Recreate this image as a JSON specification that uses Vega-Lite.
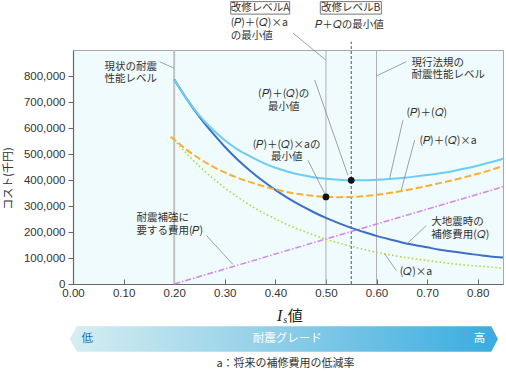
{
  "$schema": "https://vega.github.io/schema/vega-lite/v6.json",
  "width": 430,
  "height": 234,
  "autosize": {"type": "none"},
  "padding": {"left": 73, "top": 50, "right": 3, "bottom": 87},
  "background": "white",
  "view": {"fill": "#effbfd", "stroke": "#a8a8a8", "strokeWidth": 1},
  "resolve": {"axis": {"x": "independent", "y": "independent"}},
  "config": {
    "font": "Noto Sans CJK JP",
    "axis": {"labelColor": "#333", "labelFont": "Liberation Sans", "labelFontSize": 11.5, "domainColor": "#666", "tickColor": "#666", "domainWidth": 1.2, "grid": false, "titleColor": "#333", "titleFont": "Noto Sans CJK JP", "titleFontWeight": "normal", "titleFontSize": 11}
  },
  "datasets": {
    "vlineNow": [{"x": 0.2, "v": 0, "v2": 900000}],
    "vlines": [
      {"x": 0.5, "v": 0, "v2": 900000},
      {"x": 0.6, "v": 0, "v2": 900000}
    ],
    "vlineB": [{"x": 0.55, "v": 0, "v2": 932000}],
    "Q": [
      {"x": 0.2, "v": 787000}, {"x": 0.225, "v": 711000}, {"x": 0.25, "v": 643000}, {"x": 0.275, "v": 583000}, {"x": 0.3, "v": 528000}, {"x": 0.325, "v": 479000}, {"x": 0.35, "v": 436000}, {"x": 0.375, "v": 397000}, {"x": 0.4, "v": 362000}, {"x": 0.425, "v": 330000}, {"x": 0.45, "v": 302000}, {"x": 0.475, "v": 277000}, {"x": 0.5, "v": 254000}, {"x": 0.525, "v": 234000}, {"x": 0.55, "v": 216000}, {"x": 0.575, "v": 200000}, {"x": 0.6, "v": 185000}, {"x": 0.625, "v": 172000}, {"x": 0.65, "v": 160000}, {"x": 0.675, "v": 150000}, {"x": 0.7, "v": 141000}, {"x": 0.725, "v": 132000}, {"x": 0.75, "v": 125000}, {"x": 0.775, "v": 118000}, {"x": 0.8, "v": 112000}, {"x": 0.825, "v": 106000}, {"x": 0.85, "v": 102000}
    ],
    "PQ": [
      {"x": 0.2, "v": 787000}, {"x": 0.225, "v": 712000}, {"x": 0.25, "v": 648000}, {"x": 0.275, "v": 596000}, {"x": 0.3, "v": 553000}, {"x": 0.325, "v": 518000}, {"x": 0.35, "v": 491000}, {"x": 0.375, "v": 467000}, {"x": 0.4, "v": 447000}, {"x": 0.425, "v": 432000}, {"x": 0.45, "v": 420000}, {"x": 0.475, "v": 411000}, {"x": 0.5, "v": 405000}, {"x": 0.525, "v": 401000}, {"x": 0.55, "v": 399000}, {"x": 0.575, "v": 399000}, {"x": 0.6, "v": 401000}, {"x": 0.625, "v": 404000}, {"x": 0.65, "v": 408000}, {"x": 0.675, "v": 413000}, {"x": 0.7, "v": 419000}, {"x": 0.725, "v": 426000}, {"x": 0.75, "v": 434000}, {"x": 0.775, "v": 444000}, {"x": 0.8, "v": 455000}, {"x": 0.825, "v": 468000}, {"x": 0.85, "v": 482000}
    ],
    "PQa": [
      {"x": 0.193, "v": 566000}, {"x": 0.2, "v": 556000}, {"x": 0.225, "v": 516000}, {"x": 0.25, "v": 482000}, {"x": 0.275, "v": 453000}, {"x": 0.3, "v": 429000}, {"x": 0.325, "v": 409000}, {"x": 0.35, "v": 392000}, {"x": 0.375, "v": 377000}, {"x": 0.4, "v": 364000}, {"x": 0.425, "v": 353000}, {"x": 0.45, "v": 345000}, {"x": 0.475, "v": 339000}, {"x": 0.5, "v": 335000}, {"x": 0.525, "v": 334000}, {"x": 0.55, "v": 335000}, {"x": 0.575, "v": 338000}, {"x": 0.6, "v": 343000}, {"x": 0.625, "v": 350000}, {"x": 0.65, "v": 358000}, {"x": 0.675, "v": 367000}, {"x": 0.7, "v": 377000}, {"x": 0.725, "v": 388000}, {"x": 0.75, "v": 399000}, {"x": 0.775, "v": 411000}, {"x": 0.8, "v": 424000}, {"x": 0.825, "v": 438000}, {"x": 0.85, "v": 454000}
    ],
    "Qa": [
      {"x": 0.2, "v": 555000}, {"x": 0.225, "v": 501000}, {"x": 0.25, "v": 452000}, {"x": 0.275, "v": 409000}, {"x": 0.3, "v": 370000}, {"x": 0.325, "v": 335000}, {"x": 0.35, "v": 303000}, {"x": 0.375, "v": 275000}, {"x": 0.4, "v": 250000}, {"x": 0.425, "v": 227000}, {"x": 0.45, "v": 207000}, {"x": 0.475, "v": 189000}, {"x": 0.5, "v": 172000}, {"x": 0.525, "v": 158000}, {"x": 0.55, "v": 145000}, {"x": 0.575, "v": 133000}, {"x": 0.6, "v": 122000}, {"x": 0.625, "v": 113000}, {"x": 0.65, "v": 104000}, {"x": 0.675, "v": 97000}, {"x": 0.7, "v": 90000}, {"x": 0.725, "v": 84000}, {"x": 0.75, "v": 78000}, {"x": 0.775, "v": 73000}, {"x": 0.8, "v": 69000}, {"x": 0.825, "v": 65000}, {"x": 0.85, "v": 61000}
    ],
    "P": [{"x": 0.2, "v": 0}, {"x": 0.5, "v": 173000}, {"x": 0.85, "v": 374000}],
    "dots": [{"x": 0.5, "v": 335000}, {"x": 0.55, "v": 399000}],
    "leaders": [
      {"x": 0.1713, "v": 855000, "x2": 0.1996, "v2": 830000},
      {"x": 0.5996, "v": 800000, "x2": 0.6589, "v2": 855000},
      {"x": 0.4777, "v": 785000, "x2": 0.5435, "v2": 418000},
      {"x": 0.4644, "v": 476000, "x2": 0.4975, "v2": 348000},
      {"x": 0.6522, "v": 630000, "x2": 0.6259, "v2": 406000},
      {"x": 0.6753, "v": 553000, "x2": 0.649, "v2": 362000},
      {"x": 0.2636, "v": 187000, "x2": 0.3162, "v2": 75000},
      {"x": 0.6984, "v": 225000, "x2": 0.6589, "v2": 152000},
      {"x": 0.6391, "v": 52000, "x2": 0.616, "v2": 116000},
      {"x": 0.4348, "v": 965000, "x2": 0.4994, "v2": 862000}
    ],
    "boxes": [
      {"x": 0.3117, "x2": 0.4283, "v": 1038000, "v2": 1086000},
      {"x": 0.4889, "x2": 0.6095, "v": 1038000, "v2": 1086000}
    ],
    "labelsCenter": [
      {"x": 0.114, "v": 835000, "t": "現状の耐震\n性能レベル"},
      {"x": 0.4164, "v": 729000, "t": "(𝑃)＋(𝑄)の\n最小値"},
      {"x": 0.4223, "v": 536000, "t": "(𝑃)＋(𝑄)×aの\n最小値"},
      {"x": 0.37, "v": 1062000, "t": "改修レベルA"},
      {"x": 0.5488, "v": 1062000, "t": "改修レベルB"},
      {"x": 0.5468, "v": 996000, "t": "𝑃＋𝑄の最小値"}
    ],
    "labelsLeft": [
      {"x": 0.6693, "v": 851000, "t": "現行法規の\n耐震性能レベル"},
      {"x": 0.659, "v": 657000, "t": "(𝑃)＋(𝑄)"},
      {"x": 0.685, "v": 550000, "t": "(𝑃)＋(𝑄)×a"},
      {"x": 0.1253, "v": 253000, "t": "耐震補強に\n要する費用(𝑃)"},
      {"x": 0.7083, "v": 238000, "t": "大地震時の\n補修費用(𝑄)"},
      {"x": 0.6457, "v": 45000, "t": "(𝑄)×a"},
      {"x": 0.3117, "v": 1002000, "t": "(𝑃)＋(𝑄)×a\nの最小値"}
    ],
    "bar": [
      {"x": -0.0065, "v": -211300, "v2": -211300},
      {"x": 0.0079, "v": -162700, "v2": -260200},
      {"x": 0.8269, "v": -162700, "v2": -260200},
      {"x": 0.84, "v": -211300, "v2": -211300}
    ],
    "barLow": [{"x": 0.028, "v": -211000, "t": "低"}],
    "barText": [{"x": 0.4233, "v": -211000, "t": "耐震グレード"}, {"x": 0.8037, "v": -211000, "t": "高"}],
    "footnote": [{"x": 0.42, "v": -306000, "t": "a：将来の補修費用の低減率"}],
    "titleI": [{"x": 0.4085, "v": -140700, "t": "I"}],
    "titleS": [{"x": 0.4194, "v": -148400, "t": "s"}],
    "titleKanji": [{"x": 0.4243, "v": -140700, "t": "値"}]
  },
  "layer": [
    {
      "data": {"name": "vlineNow"},
      "mark": {"type": "rule", "color": "#c2c2c2", "strokeWidth": 2},
      "encoding": {
        "x": {"field": "x", "type": "quantitative", "scale": {"domain": [0, 0.85], "nice": false, "zero": false},
          "axis": {"values": [0, 0.1, 0.2, 0.3, 0.4, 0.5, 0.6, 0.7, 0.8], "format": ".2f", "title": null, "tickSize": -5, "labelPadding": 8, "labelFlush": false, "labelOverlap": false}},
        "y": {"field": "v", "type": "quantitative", "scale": {"domain": [0, 900000], "nice": false},
          "axis": {"values": [0, 100000, 200000, 300000, 400000, 500000, 600000, 700000, 800000], "format": ",.0f", "title": "コスト(千円)", "tickSize": 5, "labelPadding": 3, "titleX": -65, "titleY": 128, "titleAngle": -90, "titleAlign": "center", "titleBaseline": "middle"}},
        "y2": {"field": "v2"}
      }
    },
    {
      "data": {"name": "vlines"},
      "mark": {"type": "rule", "color": "#b0b0b0", "strokeWidth": 1},
      "encoding": {
        "x": {"field": "x", "type": "quantitative", "axis": null},
        "y": {"field": "v", "type": "quantitative", "axis": null},
        "y2": {"field": "v2"}
      }
    },
    {
      "data": {"name": "vlineB"},
      "mark": {"type": "rule", "color": "#555", "strokeWidth": 1, "strokeDash": [3, 2]},
      "encoding": {
        "x": {"field": "x", "type": "quantitative", "axis": null},
        "y": {"field": "v", "type": "quantitative", "axis": null},
        "y2": {"field": "v2"}
      }
    },
    {
      "data": {"name": "P"},
      "mark": {"type": "line", "color": "#d584f2", "strokeWidth": 1.5, "strokeDash": [6, 2, 1.5, 2]},
      "encoding": {"x": {"field": "x", "type": "quantitative", "axis": null}, "y": {"field": "v", "type": "quantitative", "axis": null}}
    },
    {
      "data": {"name": "Qa"},
      "mark": {"type": "line", "color": "#aedb45", "strokeWidth": 1.6, "strokeDash": [1.6, 2.4], "interpolate": "monotone"},
      "encoding": {"x": {"field": "x", "type": "quantitative", "axis": null}, "y": {"field": "v", "type": "quantitative", "axis": null}}
    },
    {
      "data": {"name": "Q"},
      "mark": {"type": "line", "color": "#3d6fc2", "strokeWidth": 2, "interpolate": "monotone"},
      "encoding": {"x": {"field": "x", "type": "quantitative", "axis": null}, "y": {"field": "v", "type": "quantitative", "axis": null}}
    },
    {
      "data": {"name": "PQa"},
      "mark": {"type": "line", "color": "#f6b132", "strokeWidth": 2, "strokeDash": [7, 3], "interpolate": "monotone"},
      "encoding": {"x": {"field": "x", "type": "quantitative", "axis": null}, "y": {"field": "v", "type": "quantitative", "axis": null}}
    },
    {
      "data": {"name": "PQ"},
      "mark": {"type": "line", "color": "#6ccdf5", "strokeWidth": 2, "interpolate": "monotone"},
      "encoding": {"x": {"field": "x", "type": "quantitative", "axis": null}, "y": {"field": "v", "type": "quantitative", "axis": null}}
    },
    {
      "data": {"name": "leaders"},
      "mark": {"type": "rule", "color": "#8a8a8a", "strokeWidth": 0.8},
      "encoding": {
        "x": {"field": "x", "type": "quantitative", "axis": null},
        "y": {"field": "v", "type": "quantitative", "axis": null},
        "x2": {"field": "x2"},
        "y2": {"field": "v2"}
      }
    },
    {
      "data": {"name": "dots"},
      "mark": {"type": "circle", "color": "#111", "size": 45, "opacity": 1},
      "encoding": {"x": {"field": "x", "type": "quantitative", "axis": null}, "y": {"field": "v", "type": "quantitative", "axis": null}}
    },
    {
      "data": {"name": "boxes"},
      "mark": {"type": "rect", "fill": "white", "stroke": "#777", "strokeWidth": 1},
      "encoding": {
        "x": {"field": "x", "type": "quantitative", "axis": null},
        "x2": {"field": "x2"},
        "y": {"field": "v", "type": "quantitative", "axis": null},
        "y2": {"field": "v2"}
      }
    },
    {
      "data": {"name": "labelsCenter"},
      "mark": {"type": "text", "align": "center", "baseline": "middle", "fontSize": 10.5, "color": "#333", "lineBreak": "\n", "lineHeight": 12.5},
      "encoding": {"x": {"field": "x", "type": "quantitative", "axis": null}, "y": {"field": "v", "type": "quantitative", "axis": null}, "text": {"field": "t"}}
    },
    {
      "data": {"name": "labelsLeft"},
      "mark": {"type": "text", "align": "left", "baseline": "middle", "fontSize": 10.5, "color": "#333", "lineBreak": "\n", "lineHeight": 12.5},
      "encoding": {"x": {"field": "x", "type": "quantitative", "axis": null}, "y": {"field": "v", "type": "quantitative", "axis": null}, "text": {"field": "t"}}
    },
    {
      "data": {"name": "bar"},
      "mark": {"type": "area", "fill": {"gradient": "linear", "x1": 0, "y1": 0, "x2": 1, "y2": 0, "stops": [{"offset": 0, "color": "#d6eef2"}, {"offset": 0.5, "color": "#8ccde8"}, {"offset": 1, "color": "#38ace0"}]}, "interpolate": "linear"},
      "encoding": {"x": {"field": "x", "type": "quantitative", "axis": null}, "y": {"field": "v", "type": "quantitative", "axis": null}, "y2": {"field": "v2"}}
    },
    {
      "data": {"name": "barLow"},
      "mark": {"type": "text", "align": "center", "baseline": "middle", "fontSize": 11.5, "color": "#1a6fb5"},
      "encoding": {"x": {"field": "x", "type": "quantitative", "axis": null}, "y": {"field": "v", "type": "quantitative", "axis": null}, "text": {"field": "t"}}
    },
    {
      "data": {"name": "barText"},
      "mark": {"type": "text", "align": "center", "baseline": "middle", "fontSize": 11.5, "color": "white"},
      "encoding": {"x": {"field": "x", "type": "quantitative", "axis": null}, "y": {"field": "v", "type": "quantitative", "axis": null}, "text": {"field": "t"}}
    },
    {
      "data": {"name": "footnote"},
      "mark": {"type": "text", "align": "center", "baseline": "middle", "fontSize": 11, "color": "#333"},
      "encoding": {"x": {"field": "x", "type": "quantitative", "axis": null}, "y": {"field": "v", "type": "quantitative", "axis": null}, "text": {"field": "t"}}
    },
    {
      "data": {"name": "titleI"},
      "mark": {"type": "text", "align": "center", "baseline": "alphabetic", "fontSize": 16, "font": "Liberation Serif", "fontStyle": "italic", "color": "#222"},
      "encoding": {"x": {"field": "x", "type": "quantitative", "axis": null}, "y": {"field": "v", "type": "quantitative", "axis": null}, "text": {"field": "t"}}
    },
    {
      "data": {"name": "titleS"},
      "mark": {"type": "text", "align": "center", "baseline": "alphabetic", "fontSize": 10, "font": "Liberation Serif", "fontStyle": "italic", "color": "#222"},
      "encoding": {"x": {"field": "x", "type": "quantitative", "axis": null}, "y": {"field": "v", "type": "quantitative", "axis": null}, "text": {"field": "t"}}
    },
    {
      "data": {"name": "titleKanji"},
      "mark": {"type": "text", "align": "left", "baseline": "alphabetic", "fontSize": 15, "color": "#222"},
      "encoding": {"x": {"field": "x", "type": "quantitative", "axis": null}, "y": {"field": "v", "type": "quantitative", "axis": null}, "text": {"field": "t"}}
    }
  ]
}
